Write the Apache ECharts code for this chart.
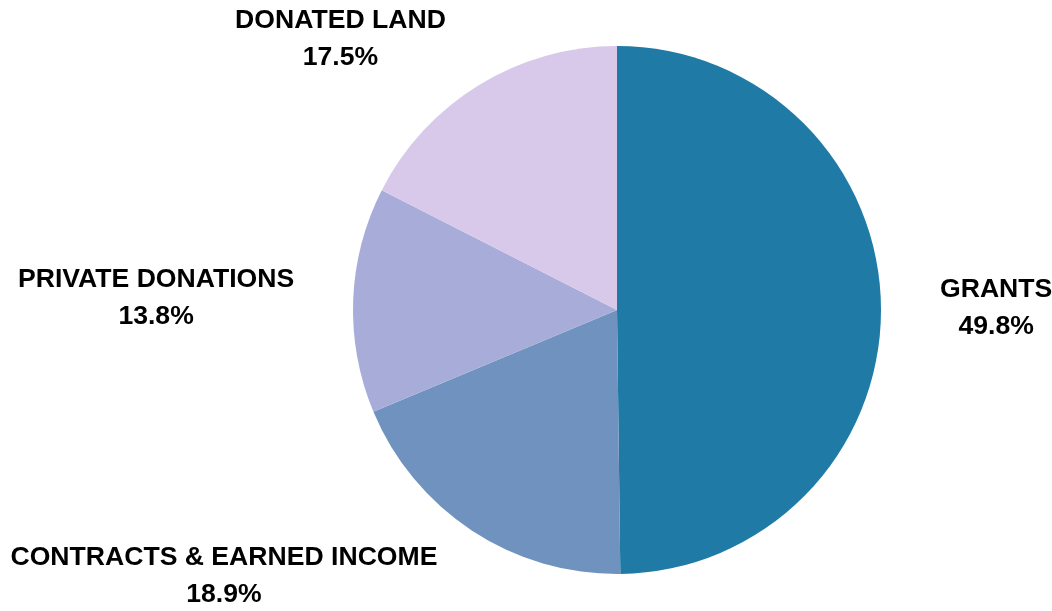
<!DOCTYPE html>
<html>
<head>
<meta charset="utf-8">
<script src="https://cdn.jsdelivr.net/npm/echarts@6/dist/echarts.min.js"></script>
<style>html,body{margin:0;padding:0;background:#fff;}#c{width:1052px;height:611px;}</style>
</head>
<body>
<div id="c"></div>
<script>
const categories = ['GRANTS', 'CONTRACTS & EARNED INCOME', 'PRIVATE DONATIONS', 'DONATED LAND'];
const values = [49.8, 18.9, 13.8, 17.5];
const colors = ['#1f7ba5', '#6f92bf', '#a8acd8', '#d8c8ea'];

const chart = echarts.init(document.getElementById('c'), null, {renderer: 'canvas'});
chart.setOption({
  animation: false,
  backgroundColor: '#ffffff',
  series: [{
    type: 'pie',
    center: [617, 310],
    radius: [0, 264],
    startAngle: 90,
    clockwise: true,
    avoidLabelOverlap: false,
    data: categories.map((c, i) => ({name: c, value: values[i], itemStyle: {color: colors[i]}})),
    label: {
      show: true,
      position: 'outside',
      formatter: p => p.name + '\n' + p.value.toFixed(1) + '%',
      fontFamily: '"Liberation Sans", Arial, sans-serif',
      fontWeight: 'bold',
      fontSize: 26.6,
      lineHeight: 37,
      color: '#000000'
    },
    labelLine: {show: false, length: 54, length2: 0},
    labelLayout: function (p) {
      const r = p.labelRect;
      return {x: r.x + r.width / 2, y: r.y + r.height / 2, align: 'center', verticalAlign: 'middle'};
    },
    emphasis: {disabled: true}
  }]
});
</script>
</body>
</html>
